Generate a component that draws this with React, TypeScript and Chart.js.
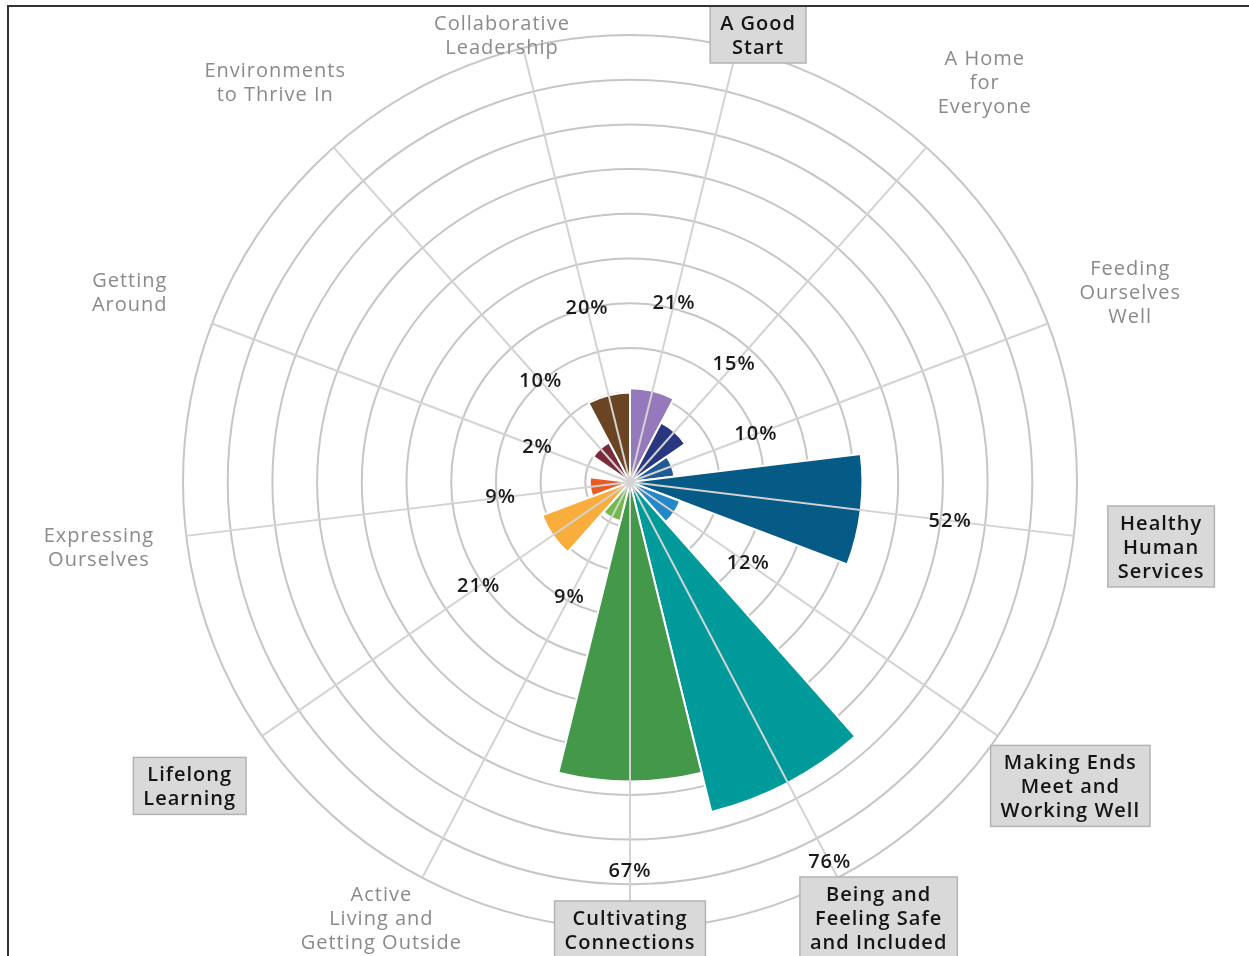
import React, { useEffect, useRef } from 'react';
import { Chart, registerables } from 'chart.js';

Chart.register(...registerables);

const CATEGORIES = [
  'A Good Start',
  'A Home for Everyone',
  'Feeding Ourselves Well',
  'Healthy Human Services',
  'Making Ends Meet and Working Well',
  'Being and Feeling Safe and Included',
  'Cultivating Connections',
  'Active Living and Getting Outside',
  'Lifelong Learning',
  'Expressing Ourselves',
  'Getting Around',
  'Environments to Thrive In',
  'Collaborative Leadership',
];

const LABEL_LINES = [
  ['A Good', 'Start'],
  ['A Home', 'for', 'Everyone'],
  ['Feeding', 'Ourselves', 'Well'],
  ['Healthy', 'Human', 'Services'],
  ['Making Ends', 'Meet and', 'Working Well'],
  ['Being and', 'Feeling Safe', 'and Included'],
  ['Cultivating', 'Connections'],
  ['Active', 'Living and', 'Getting Outside'],
  ['Lifelong', 'Learning'],
  ['Expressing', 'Ourselves'],
  ['Getting', 'Around'],
  ['Environments', 'to Thrive In'],
  ['Collaborative', 'Leadership'],
];

const VALUES = [21, 15, 10, 52, 12, 76, 67, 9, 21, 9, 2, 10, 20];

const HIGHLIGHTED = [true, false, false, true, true, true, true, false, true, false, false, false, false];

const COLORS = [
  '#9678bc',
  '#28377f',
  '#1f5a97',
  '#065a86',
  '#2586c8',
  '#009a9a',
  '#43984a',
  '#74b94b',
  '#f9ad3d',
  '#ec5a24',
  '#b82c2e',
  '#7a2a3c',
  '#6b4523',
];

const SCALE_MIN = 0;
const SCALE_MAX = 100;
const SCALE_STEP = 10;

const FONT_FAMILY = '"Open Sans", "Noto Sans", sans-serif';

const overlayPlugin = {
  id: 'overlay',
  afterDatasetsDraw(chart: any) {
    const scale = chart.scales.r;
    const ctx = chart.ctx as CanvasRenderingContext2D;
    const n = chart.data.labels.length;
    const half = Math.PI / n;
    const cx = scale.xCenter;
    const cy = scale.yCenter;
    const dir = (i: number) => {
      const a = scale.getIndexAngle(i) - Math.PI / 2 + half;
      return { c: Math.cos(a), s: Math.sin(a) };
    };
    ctx.save();
    // spokes through the middle of each wedge
    ctx.strokeStyle = '#d3d3d3';
    ctx.lineWidth = 2;
    for (let i = 0; i < n; i++) {
      const { c, s } = dir(i);
      const r = scale.drawingArea;
      ctx.beginPath();
      ctx.moveTo(cx, cy);
      ctx.lineTo(cx + c * r, cy + s * r);
      ctx.stroke();
    }
    (ctx as any).letterSpacing = '1px';
    // value labels
    ctx.font = `600 20px ${FONT_FAMILY}`;
    ctx.fillStyle = '#1b1b1b';
    ctx.textAlign = 'center';
    ctx.textBaseline = 'middle';
    VALUES.forEach((v, i) => {
      const { c, s } = dir(i);
      const r = scale.getDistanceFromCenterForValue(v) + 90;
      ctx.fillText(`${v}%`, cx + c * r, cy + s * r);
    });
    // category labels
    const lineH = 24;
    LABEL_LINES.forEach((lines, i) => {
      const { c, s } = dir(i);
      const r = scale.drawingArea + 88;
      const boxH = lines.length * lineH + 9;
      const x = cx + c * r;
      let y = cy + s * r;
      y = Math.max(6 + boxH / 2, Math.min(chart.height + 2 - boxH / 2, y));
      const hl = HIGHLIGHTED[i];
      ctx.font = `${hl ? 600 : 400} 20px ${FONT_FAMILY}`;
      const top = y - boxH / 2;
      if (hl) {
        const w = Math.max(...lines.map((l) => ctx.measureText(l).width)) + 20;
        ctx.fillStyle = '#d9d9d9';
        ctx.fillRect(x - w / 2, top, w, boxH);
        ctx.strokeStyle = '#b3b3b3';
        ctx.lineWidth = 1.5;
        ctx.strokeRect(x - w / 2, top, w, boxH);
      }
      ctx.fillStyle = hl ? '#151515' : '#8a8a8a';
      lines.forEach((l, k) => {
        ctx.fillText(l, x, top + 18 + k * lineH);
      });
    });
    ctx.restore();
  },
};

export default function App() {
  const canvasRef = useRef<HTMLCanvasElement | null>(null);

  useEffect(() => {
    const canvas = canvasRef.current;
    if (!canvas) return;
    const chart = new Chart(canvas, {
      type: 'polarArea',
      data: {
        labels: CATEGORIES,
        datasets: [
          {
            data: VALUES,
            backgroundColor: COLORS,
            borderColor: '#ffffff',
            borderWidth: 2,
          },
        ],
      },
      options: {
        responsive: false,
        animation: false,
        devicePixelRatio: 1,
        layout: { padding: { left: 183, right: 172, top: 35, bottom: 27 } },
        plugins: {
          legend: { display: false },
          tooltip: { enabled: false },
        },
        scales: {
          r: {
            min: SCALE_MIN,
            max: SCALE_MAX,
            ticks: { display: false, stepSize: SCALE_STEP },
            grid: { circular: true, color: '#c6c6c6', lineWidth: 2 },
            angleLines: { display: false },
            pointLabels: { display: false },
          },
        },
      },
      plugins: [overlayPlugin],
    } as any);
    return () => chart.destroy();
  }, []);

  return (
    <div style={{ position: 'fixed', left: 0, top: 0, width: 1249, height: 956, background: '#ffffff' }}>
      <canvas ref={canvasRef} width={1249} height={956} style={{ display: 'block' }} />
      <div
        style={{
          position: 'absolute',
          left: 7,
          top: 5,
          right: 0,
          bottom: 0,
          borderTop: '2px solid #333333',
          borderLeft: '2px solid #333333',
          pointerEvents: 'none',
        }}
      />
    </div>
  );
}
